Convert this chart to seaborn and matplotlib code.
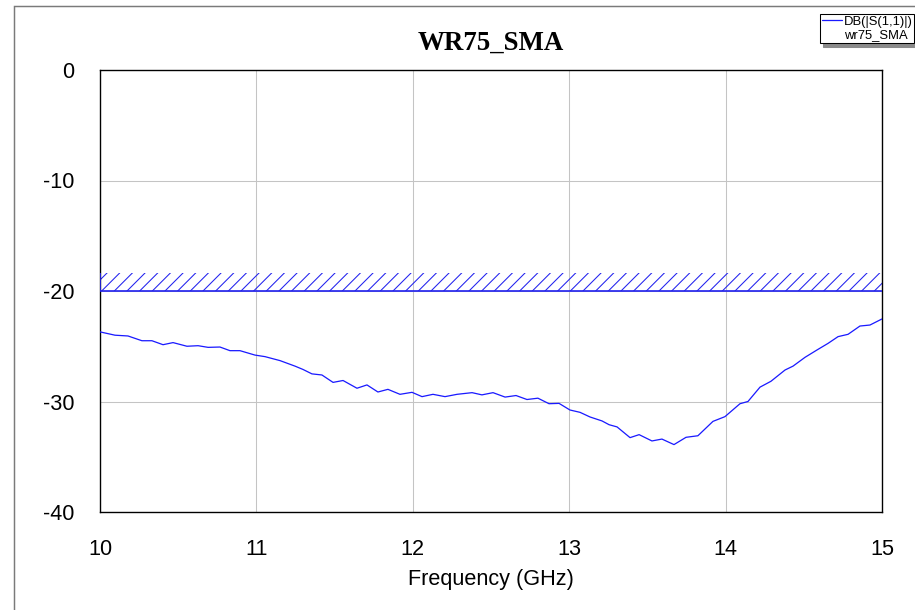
import matplotlib
matplotlib.use("Agg")
import matplotlib.pyplot as plt
import seaborn as sns
import pandas as pd
from matplotlib.lines import Line2D
from matplotlib.patches import Rectangle

# ---- data ----
freq_ghz = [10.000, 10.096, 10.179, 10.268, 10.332, 10.403, 10.467, 10.556, 10.627, 10.691,
            10.767, 10.831, 10.895, 10.991, 11.055, 11.151, 11.247, 11.298, 11.355, 11.419,
            11.490, 11.554, 11.643, 11.707, 11.777, 11.841, 11.918, 11.995, 12.059, 12.129,
            12.206, 12.283, 12.379, 12.442, 12.513, 12.590, 12.660, 12.730, 12.800, 12.871,
            12.935, 13.005, 13.069, 13.133, 13.210, 13.255, 13.306, 13.389, 13.447, 13.529,
            13.593, 13.670, 13.747, 13.823, 13.919, 13.996, 14.092, 14.143, 14.220, 14.290,
            14.380, 14.431, 14.508, 14.584, 14.655, 14.719, 14.783, 14.859, 14.923, 15.000]
s11_db = [-23.70, -24.00, -24.07, -24.50, -24.50, -24.86, -24.67, -25.00, -24.95, -25.10,
          -25.07, -25.40, -25.40, -25.80, -25.94, -26.30, -26.80, -27.10, -27.50, -27.60,
          -28.27, -28.10, -28.80, -28.50, -29.14, -28.90, -29.35, -29.17, -29.56, -29.35,
          -29.56, -29.35, -29.20, -29.40, -29.20, -29.60, -29.46, -29.82, -29.70, -30.20,
          -30.17, -30.77, -30.98, -31.40, -31.76, -32.10, -32.30, -33.27, -33.00, -33.57,
          -33.40, -33.90, -33.24, -33.10, -31.80, -31.37, -30.20, -30.00, -28.70, -28.17,
          -27.15, -26.80, -26.00, -25.34, -24.74, -24.13, -23.92, -23.17, -23.08, -22.53]
spec_low_db = -20.0
spec_high_db = -18.4
x_ticks = [10, 11, 12, 13, 14, 15]
y_ticks = [0, -10, -20, -30, -40]
title_text = "WR75_SMA"
xlabel_text = "Frequency (GHz)"
legend_lines = ["DB(|S(1,1)|)", "wr75_SMA"]

df = pd.DataFrame({"freq": freq_ghz, "s11": s11_db})

sns.set_theme(style="white")
plt.rcParams["font.family"] = ["Liberation Sans", "DejaVu Sans"]
plt.rcParams["hatch.linewidth"] = 1.0

DPI = 76
fig = plt.figure(figsize=(915 / DPI, 610 / DPI), dpi=DPI)
fig.patch.set_facecolor("white")
ax = fig.add_axes([100 / 915, 1 - 512 / 610, 782 / 915, 442 / 610])

# spec band (hatched)
ax.fill_between([freq_ghz[0], freq_ghz[-1]], spec_low_db, spec_high_db,
                facecolor="none", edgecolor="#2323ee", hatch="//", linewidth=0, zorder=2)
ax.axhline(spec_low_db, color="#2323ee", lw=1.6, zorder=3)
ax.vlines(freq_ghz[0], spec_low_db, spec_high_db, color="#2323ee", lw=1.6, zorder=3)

sns.lineplot(data=df, x="freq", y="s11", ax=ax, color="#1a1aff", lw=1.2,
             sort=False, zorder=4)

ax.set_xlim(10, 15)
ax.set_ylim(-40, 0)
ax.set_xticks(x_ticks)
ax.set_yticks(y_ticks)
ax.set_xticklabels([str(t) for t in x_ticks])
ax.set_yticklabels([str(t) for t in y_ticks])
ax.tick_params(axis="both", length=0, labelsize=20.5, colors="black")
ax.tick_params(axis="x", pad=25.5)
ax.tick_params(axis="y", pad=24.5)
ax.grid(True, color="#c4c4c4", lw=1.0)
for side, sp in ax.spines.items():
    sp.set_color("black")
    sp.set_linewidth(1.3)
ax.set_xlabel(xlabel_text, fontsize=20.5, labelpad=9, color="black")
ax.set_ylabel("")
ax.set_title(title_text, fontfamily=["Liberation Serif"], fontweight="bold",
             fontsize=25.5, pad=19, color="black")

# figure frame
fig.add_artist(Rectangle((14 / 915, -0.05), 1.1, 1 - 6 / 610 + 0.05,
                         transform=fig.transFigure, fill=False,
                         edgecolor="#7a7a7a", lw=1.4, zorder=0))

# legend
handles = [Line2D([], [], color="#1a1aff", lw=1.2),
           Line2D([], [], color="none", lw=0)]
leg = fig.legend(handles, legend_lines, loc="upper left",
                 bbox_to_anchor=(820 / 915, 1 - 14 / 610),
                 bbox_transform=fig.transFigure, fontsize=12.3,
                 frameon=True, fancybox=False,
                 shadow={"color": "#8a8a8a", "alpha": 1.0, "ox": 3, "oy": -4},
                 framealpha=1,
                 edgecolor="black", handlelength=1.55, handletextpad=0.12,
                 borderpad=0.15, labelspacing=0.05, borderaxespad=0)
leg.get_frame().set_linewidth(1.0)
for t in leg.get_texts():
    t.set_color("black")

fig.savefig("out.png", dpi=DPI, facecolor="white")
